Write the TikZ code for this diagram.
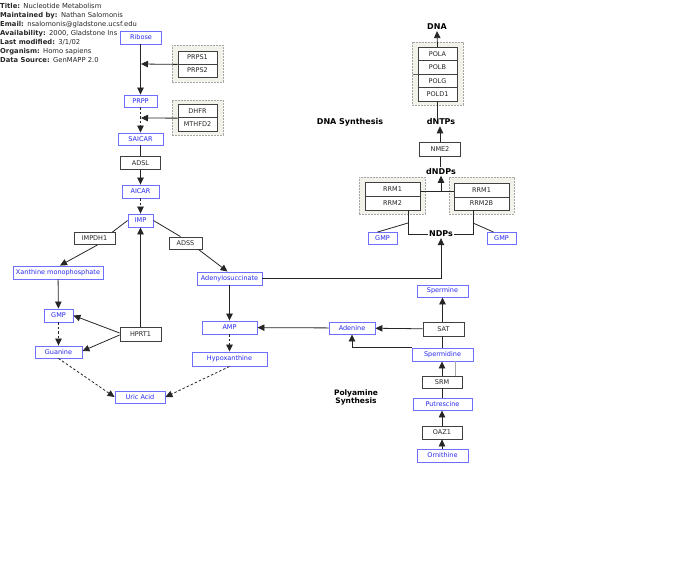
\documentclass[tikz,border=0pt]{standalone}
\usepackage{fontspec}
\setmainfont{DejaVu Sans}
\usetikzlibrary{arrows.meta}
\definecolor{metblue}{RGB}{40,40,240}
\definecolor{metborder}{RGB}{110,110,255}
\definecolor{grpfill}{RGB}{242,242,234}
\tikzset{
 met/.style={draw=metborder, line width=0.9pt, fill=white, text=metblue, font=\fontsize{6.5}{7}\selectfont, minimum height=13pt, inner sep=0pt},
 gene/.style={draw=black!75, line width=0.8pt, fill=white, text=black!85, font=\fontsize{6.5}{7}\selectfont, minimum height=13.5pt, inner sep=0pt},
 grp/.style={draw=black!35, dash pattern=on 2pt off 1pt, fill=grpfill, line width=0.9pt},
 lbl/.style={font=\bfseries\fontsize{8}{9}\selectfont, inner sep=1pt},
 hdr/.style={font=\fontsize{6.8}{7}\selectfont, anchor=base west, inner sep=0pt, text=black!85},
 arr/.style={-{Triangle[length=7pt,width=6.5pt]}, line width=0.8pt, black!85},
 ln/.style={line width=0.8pt, black!85},
 dsh/.style={dash pattern=on 2.5pt off 2pt},
}
\begin{document}
\begin{tikzpicture}[x=1pt,y=-1pt]
\useasboundingbox (0,0) rectangle (676,578);
% header
\begin{scope}
\clip (0,0) rectangle (136,70);
\node[hdr] (h1) at (0,8.5) {\textbf{Title:}\enspace Nucleotide Metabolism};
\node[hdr] (h2) at (0,17.5) {\textbf{Maintained by:}\enspace Nathan Salomonis};
\node[hdr] (h3) at (0,26.5) {\textbf{Email:}\enspace nsalomonis@gladstone.ucsf.edu};
\node[hdr] (h4) at (0,35.5) {\textbf{Availability:}\enspace 2000, Gladstone Ins};
\node[hdr] (h5) at (0,44.5) {\textbf{Last modified:}\enspace 3/1/02};
\node[hdr] (h6) at (0,53.5) {\textbf{Organism:}\enspace Homo sapiens};
\node[hdr] (h7) at (0,62.5) {\textbf{Data Source:}\enspace GenMAPP 2.0};
\end{scope}

% groups
\node[grp, minimum width=51pt, minimum height=37pt] (gprps) at (197.5,63.5) {};
\node[grp, minimum width=51pt, minimum height=35pt] (gdhfr) at (197.5,117.5) {};
\node[grp, minimum width=51pt, minimum height=63pt] (gpol) at (437.5,73.5) {};
\node[grp, minimum width=66pt, minimum height=37pt] (grrmL) at (392,195.5) {};
\node[grp, minimum width=65pt, minimum height=37pt] (grrmR) at (481.5,195.5) {};

% left metabolites
\node[met, minimum width=41pt] (ribose) at (141,37.5) {Ribose};
\node[met, minimum width=33pt, minimum height=12pt] (prpp) at (140.5,101) {PRPP};
\node[met, minimum width=45pt, minimum height=12pt] (saicar) at (140.5,139) {SAICAR};
\node[gene, minimum width=40pt] (adsl) at (140.5,163) {ADSL};
\node[met, minimum width=37pt] (aicar) at (140.5,191.5) {AICAR};
\node[met, minimum width=25pt] (imp) at (140.5,220.5) {IMP};
\node[gene, minimum width=41pt, minimum height=12pt] (impdh1) at (94.5,238.5) {IMPDH1};
\node[gene, minimum width=33pt, minimum height=12pt] (adss) at (185.5,243) {ADSS};
\node[met, minimum width=90pt] (xmp) at (58,272.5) {Xanthine monophosphate};
\node[met, minimum width=65pt] (adsucc) at (229.5,278.5) {Adenylosuccinate};
\node[met, minimum width=29pt] (gmp1) at (58.5,315.5) {GMP};
\node[met, minimum width=47pt, minimum height=12pt] (guanine) at (58.5,352) {Guanine};
\node[gene, minimum width=41pt, minimum height=14pt] (hprt1) at (140.5,334) {HPRT1};
\node[met, minimum width=55pt] (amp) at (229.5,327.5) {AMP};
\node[met, minimum width=75pt, minimum height=14pt] (hypox) at (229.5,359) {Hypoxanthine};
\node[met, minimum width=50pt, minimum height=12pt] (uric) at (140,397) {Uric Acid};

% left genes in groups
\node[gene, minimum width=39pt, minimum height=13pt] (prps1) at (197.5,57.5) {PRPS1};
\node[gene, minimum width=39pt, minimum height=13pt] (prps2) at (197.5,70.5) {PRPS2};
\node[gene, minimum width=39pt, minimum height=13.5pt] (dhfr) at (197.5,111) {DHFR};
\node[gene, minimum width=39pt, minimum height=13.5pt] (mthfd2) at (197.5,124.5) {MTHFD2};

% right DNA part
\node[lbl] (dna) at (437,27) {DNA};
\node[gene, minimum width=39pt] (pola) at (437.5,54) {POLA};
\node[gene, minimum width=39pt] (polb) at (437.5,67.5) {POLB};
\node[gene, minimum width=39pt] (polg) at (437.5,81) {POLG};
\node[gene, minimum width=39pt] (pold1) at (437.5,94.5) {POLD1};
\node[lbl] (dnasyn) at (350,122) {DNA Synthesis};
\node[lbl] (dntps) at (441,122) {dNTPs};
\node[gene, minimum width=41pt] (nme2) at (440,149.5) {NME2};
\node[lbl] (dndps) at (441,171.5) {dNDPs};
\node[gene, minimum width=55pt, minimum height=14pt] (rrm1L) at (392.5,189) {RRM1};
\node[gene, minimum width=55pt, minimum height=14pt] (rrm2L) at (392.5,203) {RRM2};
\node[gene, minimum width=55pt, minimum height=14pt] (rrm1R) at (481.5,190) {RRM1};
\node[gene, minimum width=55pt, minimum height=13pt] (rrm2bR) at (481.5,203.5) {RRM2B};
\node[met, minimum width=29pt, minimum height=12pt] (gmpL) at (382.5,238.5) {GMP};
\node[met, minimum width=29pt, minimum height=12pt] (gmpR) at (501.5,238.5) {GMP};
\node[lbl] (ndps) at (441,234) {NDPs};

% polyamine
\node[met, minimum width=51pt, minimum height=12pt] (spermine) at (442.5,291) {Spermine};
\node[gene, minimum width=41pt, minimum height=14pt] (sat) at (443.5,329) {SAT};
\node[met, minimum width=46pt, minimum height=12pt] (adenine) at (352,328) {Adenine};
\node[met, minimum width=61pt, minimum height=13pt] (spermidine) at (442.5,354.5) {Spermidine};
\node[gene, minimum width=40pt, minimum height=12pt] (srm) at (442,382) {SRM};
\node[met, minimum width=59pt, minimum height=12pt] (putrescine) at (442.5,404) {Putrescine};
\node[gene, minimum width=40pt, minimum height=13pt] (oaz1) at (442,432.5) {OAZ1};
\node[met, minimum width=51pt, minimum height=13pt] (ornithine) at (442.5,455.5) {Ornithine};
\node[lbl, align=center, font=\bfseries\fontsize{7.5}{8}\selectfont] (polyam) at (356,397) {Polyamine\\Synthesis};

% coordinates
\coordinate (j1) at (141,64);
\coordinate (j2) at (141,118);
\coordinate (jr) at (441,191.5);
\coordinate (jgl) at (408,223);
\coordinate (jgr) at (473,223);
\coordinate (tk1) at (412.5,74.3);

% connectors left
\draw[arr] (ribose.south -| prpp.north) -- (prpp);
\draw[arr] (prps1.south west) -- (j1);
\draw[arr, dsh] (prpp) -- (saicar);
\draw[arr] (dhfr.south west) -- (j2);
\draw[ln] (saicar) -- (adsl);
\draw[arr] (adsl) -- (aicar);
\draw[arr, dsh] (aicar) -- (imp);
\draw[ln] (imp.west) -- ([xshift=-3pt]impdh1.north east);
\draw[arr] ([xshift=3pt]impdh1.south) -- ([xshift=2pt]xmp.north);
\draw[ln] (imp.east) -- ([xshift=-5pt]adss.north);
\draw[arr] ([xshift=-4pt]adss.south east) -- ([xshift=-2pt]adsucc.north);
\draw[arr] (xmp) -- (gmp1);
\draw[arr, dsh] (gmp1) -- (guanine);
\draw[arr] ([yshift=1pt]hprt1.west) -- (gmp1.east);
\draw[arr] ([yshift=-1pt]hprt1.west) -- ([yshift=1pt]guanine.east);
\draw[arr] (hprt1) -- (imp);
\draw[arr, dsh] (guanine.south) -- (uric.west);
\draw[arr, dsh] (hypox.south) -- (uric.east);
\draw[arr] (adsucc) -- (amp);
\draw[arr, dsh] (amp) -- (hypox);
\draw[arr] (adsucc.east) -| (ndps.south);

% connectors right
\draw[arr] (pola.north) -- (dna.south);
\draw[ln] (pold1.south) -- (pold1.south |- dntps.north);
\draw[ln, black!60] (tk1) -- (tk1 -| polg.west);
\draw[arr] (nme2.north) -- (nme2.north |- dntps.south);
\draw[ln] (nme2.south) -- (nme2.south |- dndps.north);
\draw[ln] (rrm1L.east |- jr) -- (rrm1R.west |- jr);
\draw[arr] (jr) -- (dndps.south);
\draw[ln] ([xshift=15.5pt]rrm2L.south) |- (ndps.west);
\draw[ln] ([xshift=-8.5pt]rrm2bR.south) |- (ndps.east);
\draw[ln] ([xshift=-5pt]gmpL.north) -- (jgl);
\draw[ln] ([xshift=-8pt]gmpR.north) -- (jgr);

% polyamine connectors
\draw[arr] (adenine) -- (amp);
\draw[arr] (sat) -- (adenine);
\draw[arr] (sat.north -| spermine.south) -- (spermine.south);
\draw[ln] (sat.south -| spermidine.north) -- (spermidine.north);
\draw[arr] (spermidine.north west) -| (adenine.south);
\draw[arr] (srm.north) -- (srm.north |- spermidine.south);
\draw[line width=0.9pt, black!35] ([xshift=13.5pt]srm.north) -- ([xshift=13.5pt]srm.north |- spermidine.south);
\draw[ln] (putrescine.north -| srm.south) -- (srm.south);
\draw[arr] (oaz1.north) -- (oaz1.north |- putrescine.south);
\draw[arr] (ornithine.north -| oaz1.south) -- (oaz1.south);
\end{tikzpicture}
\end{document}
